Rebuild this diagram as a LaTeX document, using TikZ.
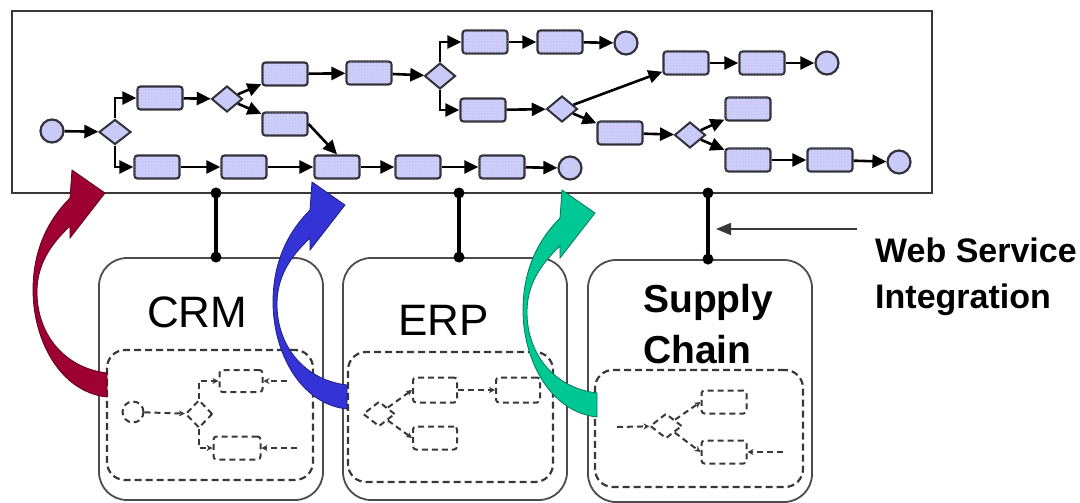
\documentclass[tikz,border=0pt]{standalone}
\usepackage{fontspec}
\setmainfont{Liberation Sans}
\usetikzlibrary{shapes.geometric,arrows.meta,patterns}
\definecolor{lav}{RGB}{202,202,248}
\definecolor{rimline}{RGB}{50,50,60}
\definecolor{crimson}{RGB}{158,0,52}
\definecolor{royal}{RGB}{52,52,214}
\definecolor{jade}{RGB}{0,200,148}

\tikzset{
  bigarrow/.pic={
    \path[pic actions]
      (107,397) .. controls (60,392) and (33,340) .. (33,290)
      .. controls (33,250) and (48,220) .. (70,198)
      -- (72,170) -- (105,193) -- (70,238) -- (70,226)
      .. controls (50,245) and (37,265) .. (37,292)
      .. controls (37,335) and (65,368) .. (107,373) -- cycle;
  }
}

\begin{document}
\begin{tikzpicture}[x=1pt,y=-1pt,
  task/.style={draw=rimline, line width=2.2pt, rounded corners=3pt, fill=lav,
    postaction={pattern=dots, pattern color=white!50!lav},
    minimum width=45pt, minimum height=23pt, inner sep=0pt},
  gate/.style={diamond, draw=rimline, line width=2pt, fill=lav,
    minimum width=31pt, minimum height=26pt, inner sep=0pt},
  event/.style={circle, draw=rimline, line width=2.2pt, fill=lav,
    minimum size=23pt, inner sep=0pt},
  flow/.style={line width=2.6pt, -{Triangle[length=14pt,width=13pt]}},
  sketch/.style={draw=black!78, dash pattern=on 6pt off 4pt, line width=2pt},
  mtask/.style={sketch, rounded corners=3pt, minimum width=44pt, minimum height=23pt, inner sep=0pt},
  mgate/.style={sketch, diamond, minimum width=30pt, minimum height=26pt, inner sep=0pt},
  mevent/.style={sketch, circle, minimum size=21pt, inner sep=0pt},
  mflow/.style={sketch, -{Stealth[length=6pt,width=6pt]}},
  appbox/.style={draw=black!70, line width=1.8pt, rounded corners=28pt, inner sep=0pt},
  panel/.style={draw=black!78, dash pattern=on 7pt off 4pt, line width=2.2pt,
    rounded corners=18pt, inner sep=0pt},
  link/.style={line width=3.2pt},
  linkdot/.style={circle, fill=black, inner sep=0pt, minimum size=11pt},
  appname/.style={inner sep=0pt, anchor=base west, font=\fontsize{44}{50}\selectfont},
  boldname/.style={inner sep=0pt, anchor=base west, font=\fontsize{39}{51}\selectfont\bfseries},
  note/.style={inner sep=0pt, anchor=base west, font=\fontsize{34}{46}\selectfont\bfseries}
]
\useasboundingbox (0,0) rectangle (1080,503);

% ---------- orchestrated process ----------
\node[draw=black!78, line width=2.8pt, minimum width=920pt, minimum height=182pt, inner sep=0pt]
  (proc) at (472,102) {};

\node[event] (c0) at (52,131) {};
\node[gate, minimum width=32pt, minimum height=25pt] (d1) at (115,132) {};
\node[task] (r1) at (160,98) {};
\node[task] (r2) at (157,167) {};
\node[gate] (d2) at (227,99) {};
\node[task] (r3) at (285,74) {};
\node[task] (r4) at (285,124) {};
\node[task] (r5) at (244,167) {};
\node[task] (r6) at (337,167) {};
\node[task] (r8) at (418,167) {};
\node[task] (r9) at (502,167) {};
\node[event] (c1) at (570,168) {};
\node[task] (rA) at (369,73) {};
\node[gate] (d3) at (440,76) {};
\node[task] (r11) at (485,42) {};
\node[task] (r12) at (560,42) {};
\node[event] (c2) at (626,43) {};
\node[task] (r13) at (483,110) {};
\node[gate] (d4) at (562,109) {};
\node[task] (r14) at (686,63) {};
\node[task] (r15) at (762,63) {};
\node[event] (c3) at (827,63) {};
\node[task] (r16) at (620,133) {};
\node[gate] (d5) at (690,135) {};
\node[task] (r17) at (748,109) {};
\node[task] (r18) at (748,160) {};
\node[task] (r19) at (830,160) {};
\node[event] (c4) at (899,162) {};

\draw[flow] (c0) -- (d1);
\draw[flow] (d1.north) |- (r1.west);
\draw[flow] (d1.south) |- (r2.west);
\draw[flow] (r1) -- (d2);
\draw[flow] (d2) -- (r3);
\draw[flow] (d2) -- (r4);
\draw[flow] (r4.east) -- (r6.north);
\draw[flow] (r2) -- (r5);
\draw[flow] (r5) -- (r6);
\draw[flow] (r6) -- (r8);
\draw[flow] (r8) -- (r9);
\draw[flow] (r9) -- (c1);
\draw[flow] (r3) -- (rA);
\draw[flow] (rA) -- (d3);
\draw[flow] (d3.north) |- (r11.west);
\draw[flow] (r11) -- (r12);
\draw[flow] (r12) -- (c2);
\draw[flow] (d3.south) |- (r13.west);
\draw[flow] (r13) -- (d4);
\draw[flow] (d4) -- (r14);
\draw[flow] (d4) -- (r16);
\draw[flow] (r14) -- (r15);
\draw[flow] (r15) -- (c3);
\draw[flow] (r16) -- (d5);
\draw[flow] (d5) -- (r17);
\draw[flow] (d5) -- (r18);
\draw[flow] (r18) -- (r19);
\draw[flow] (r19) -- (c4);

% ---------- applications ----------
\node[appbox, minimum width=224pt, minimum height=242pt] (crm) at (211,379) {};
\node[appbox, minimum width=224pt, minimum height=242pt] (erp) at (455,379) {};
\node[appbox, minimum width=224pt, minimum height=242pt] (scm) at (700,381) {};

\node[panel, minimum width=206pt, minimum height=130pt] (crmin) at (210,415) {};
\node[panel, minimum width=205pt, minimum height=130pt] (erpin) at (450.5,417) {};
\node[panel, minimum width=208pt, minimum height=117pt] (scmin) at (699,428.5) {};

\node[appname] (crmtxt) at (147,327) {CRM};
\node[appname] (erptxt) at (398,335) {ERP};
\node[boldname, align=left] (scmtxt) at (643,363) {Supply\\Chain};

% web service connectors
\coordinate (t1) at (216,193);
\coordinate (t2) at (459,193);
\coordinate (t3) at (708,193);
\draw[link] (t1) -- (t1 |- crm.north);
\draw[link] (t2) -- (t2 |- erp.north);
\draw[link] (t3) -- (t3 |- scm.north);
\foreach \t/\b in {t1/crm,t2/erp,t3/scm}{
  \node[linkdot] at (\t) {};
  \node[linkdot] at (\t |- \b.north) {};
}

\coordinate (wsfrom) at (857,229);
\coordinate (wsto) at (716,229);
\draw[line width=1.8pt, draw=black!78, -{Triangle[length=15pt,width=12pt]}] (wsfrom) -- (wsto);
\node[note] (ws1) at (875,262) {Web Service};
\node[note] (ws2) at (875,308) {Integration};

% ---------- internal process sketches ----------
% CRM
\node[mevent] (m1c) at (133,412) {};
\node[mgate, minimum width=27pt, minimum height=28pt] (m1d) at (199,414) {};
\node[mtask, minimum width=43pt, minimum height=22pt] (m1a) at (241,381) {};
\node[mtask, minimum width=47pt] (m1b) at (237,448) {};
\coordinate (m1x) at (287,381);
\coordinate (m1y) at (297,448);
\draw[mflow] (m1c) -- (m1d);
\draw[mflow] (m1d.north) |- (m1a.west);
\draw[mflow] (m1d.south) |- (m1b.west);
\draw[mflow] (m1x) -- (m1a.east);
\draw[mflow] (m1y) -- (m1b.east);
% ERP
\node[mgate, minimum width=32pt, minimum height=25pt] (m2d) at (379,414) {};
\node[mtask, minimum height=25pt] (m2a) at (435,390) {};
\node[mtask, minimum height=25pt] (m2b) at (518,390) {};
\node[mtask] (m2c) at (435,438) {};
\draw[mflow] (m2d) -- (m2a.west);
\draw[mflow] (m2d) -- (m2c.west);
\draw[mflow] (m2a) -- (m2b);
% Supply chain
\coordinate (m3s) at (617,427);
\node[mgate, minimum width=32pt, minimum height=25pt] (m3d) at (666,426) {};
\node[mtask, minimum width=45pt] (m3a) at (724,402) {};
\node[mtask, minimum width=45pt] (m3b) at (724,452) {};
\coordinate (m3x) at (783,452);
\draw[mflow] (m3s) -- (m3d);
\draw[mflow] (m3d) -- (m3a.west);
\draw[mflow] (m3d) -- (m3b.west);
\draw[mflow] (m3x) -- (m3b.east);

% ---------- curved hand-over arrows ----------
\pic[fill=crimson, draw=crimson!60!black, line width=0.8pt] at (0,0) {bigarrow};
\pic[fill=royal, draw=royal!60!black, line width=0.8pt] at (240,12) {bigarrow};
\pic[fill=jade, draw=jade!60!black, line width=0.8pt] at (490,20) {bigarrow};
\end{tikzpicture}
\end{document}
